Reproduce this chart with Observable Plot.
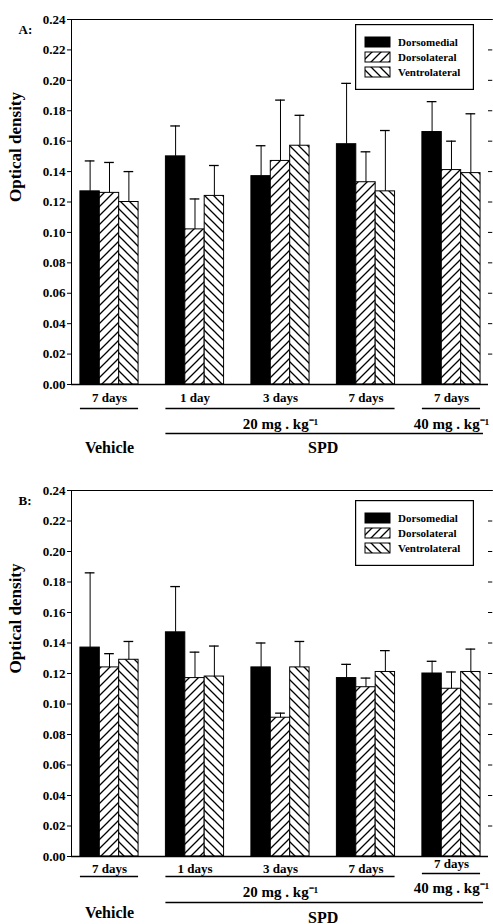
<!DOCTYPE html>
<html>
<head>
<meta charset="utf-8">
<script src="https://cdn.jsdelivr.net/npm/d3@7"></script>
<script src="https://cdn.jsdelivr.net/npm/@observablehq/plot@0.6"></script>
<style>
  html, body { margin: 0; padding: 0; background: #fff; overflow: hidden; }
  #chart { position: relative; width: 493px; }
  .panel { position: relative; width: 493px; height: 462px; }
  .panel > svg { display: block; }
  .legend { position: absolute; }
  .legend text { font-family: "Liberation Serif", "Times New Roman", serif; font-weight: bold; font-size: 11px; }
</style>
</head>
<body>
<svg width="0" height="0" style="position:absolute">
  <defs>
    <pattern id="hatchDL" patternUnits="userSpaceOnUse" width="9" height="9">
      <rect width="9" height="9" fill="white"/>
      <path d="M-1,1 L1,-1 M0,9 L9,0 M8,10 L10,8" stroke="black" stroke-width="1.3"/>
    </pattern>
    <pattern id="hatchVL" patternUnits="userSpaceOnUse" width="9" height="9">
      <rect width="9" height="9" fill="white"/>
      <path d="M-1,8 L1,10 M0,0 L9,9 M8,-1 L10,1" stroke="black" stroke-width="1.3"/>
    </pattern>
  </defs>
</svg>
<div id="chart"></div>
<script>
// ---------- data ----------
const groups = ["Vehicle 7 days", "SPD 20 mg/kg 1 day", "SPD 20 mg/kg 3 days", "SPD 20 mg/kg 7 days", "SPD 40 mg/kg 7 days"];
const regions = ["Dorsomedial", "Dorsolateral", "Ventrolateral"];
const yTicks = [0, 0.02, 0.04, 0.06, 0.08, 0.10, 0.12, 0.14, 0.16, 0.18, 0.20, 0.22, 0.24];

const dayLabelsA = ["7 days", "1 day", "3 days", "7 days", "7 days"];
const dayLabelsB = ["7 days", "1 days", "3 days", "7 days", "7 days"];
const doseLabels = ["20 mg . kg\u207B\u00B9", "40 mg . kg\u207B\u00B9"];
const treatmentLabels = ["Vehicle", "SPD"];

// Panel A
const aDorsomedial     = [0.127, 0.150, 0.137, 0.158, 0.166];
const aDorsomedialErr  = [0.020, 0.020, 0.020, 0.040, 0.020];
const aDorsolateral    = [0.126, 0.102, 0.147, 0.133, 0.141];
const aDorsolateralErr = [0.020, 0.020, 0.040, 0.020, 0.019];
const aVentrolateral   = [0.120, 0.124, 0.157, 0.127, 0.139];
const aVentrolateralErr= [0.020, 0.020, 0.020, 0.040, 0.039];

// Panel B
const bDorsomedial     = [0.137, 0.147, 0.124, 0.117, 0.120];
const bDorsomedialErr  = [0.049, 0.030, 0.016, 0.009, 0.008];
const bDorsolateral    = [0.124, 0.117, 0.091, 0.111, 0.110];
const bDorsolateralErr = [0.009, 0.017, 0.003, 0.006, 0.011];
const bVentrolateral   = [0.129, 0.118, 0.124, 0.121, 0.121];
const bVentrolateralErr= [0.012, 0.020, 0.017, 0.014, 0.015];

// ---------- layout (in bar-width units) ----------
const GROUP_STEP = 4.41;   // one group = 3 bars + gap
const PAD_LEFT = 0.46, PAD_RIGHT = 0.41;
const X_MIN = -PAD_LEFT;
const X_MAX = (groups.length - 1) * GROUP_STEP + regions.length + PAD_RIGHT;
const center = (g0, g1) => (g0 * GROUP_STEP + g1 * GROUP_STEP + regions.length) / 2;
const FONT = "'Liberation Serif', 'Times New Roman', serif";
const fills = ["black", "url(#hatchDL)", "url(#hatchVL)"];

function legendSvg(top) {
  const rowsY = [18, 33, 48];
  let s = `<svg class="legend" style="left:355px;top:${top}px" width="119" height="66">`;
  s += `<rect x="0.6" y="0.6" width="117.8" height="64.8" fill="white" stroke="black" stroke-width="1.2"/>`;
  regions.forEach((r, i) => {
    s += `<rect x="10" y="${rowsY[i] - 5}" width="25" height="10" fill="${fills[i]}" stroke="black" stroke-width="1"/>`;
    s += `<text x="43" y="${rowsY[i]}" dominant-baseline="central">${r}</text>`;
  });
  return s + `</svg>`;
}

function makePanel(p) {
  const values = [p.dm, p.dl, p.vl];
  const errors = [p.dmErr, p.dlErr, p.vlErr];
  const rows = regions.flatMap((region, r) => groups.map((group, i) => ({
    group, region,
    x1: i * GROUP_STEP + r, x2: i * GROUP_STEP + r + 1,
    value: values[r][i], top: values[r][i] + errors[r][i]
  })));

  const marks = [];
  regions.forEach((region, r) => {
    marks.push(Plot.rect(rows.filter(d => d.region === region), {
      x1: "x1", x2: "x2", y1: () => 0, y2: "value",
      fill: fills[r], stroke: "black", strokeWidth: 1
    }));
  });
  marks.push(Plot.ruleX(rows, {x: d => d.x1 + 0.5, y1: "value", y2: "top", stroke: "black", strokeWidth: 1}));
  marks.push(Plot.ruleY(rows, {y: "top", x1: d => d.x1 + 0.25, x2: d => d.x1 + 0.75, stroke: "black", strokeWidth: 1.3}));

  // frame lines
  marks.push(Plot.ruleY([0], {x1: X_MIN, x2: X_MAX, stroke: "black", strokeWidth: 1.3}));
  marks.push(Plot.ruleY([0.24], {x1: X_MIN, x2: X_MAX + 0.25, stroke: "black", strokeWidth: 1.1}));
  marks.push(Plot.ruleY(yTicks.slice(1, -1), {x1: X_MAX, x2: X_MAX + 0.22, stroke: "black", strokeWidth: 1}));

  // panel letter and y label
  marks.push(Plot.text([p.letter], {frameAnchor: "top-left", dx: -53, dy: 5, textAnchor: "start", fontSize: 13}));
  marks.push(Plot.text(["Optical density"], {frameAnchor: "left", rotate: -90, dx: -56, fontSize: 17}));

  // category annotations
  p.dayLabels.forEach((t, i) => {
    marks.push(Plot.text([t], {x: () => center(i, i), y: () => 0, dy: p.dy.day[i], fontSize: 13}));
  });
  const spans = [[0, 0], [1, 3], [4, 4]];
  spans.forEach(([g0, g1], k) => {
    marks.push(Plot.ruleY([0], {x1: g0 * GROUP_STEP, x2: g1 * GROUP_STEP + regions.length, dy: p.dy.underline[k], stroke: "black", strokeWidth: 1.3}));
  });
  const doseSpans = [[1, 3], [4, 4]];
  doseLabels.forEach((t, k) => {
    marks.push(Plot.text([t], {x: () => center(...doseSpans[k]), y: () => 0, dy: p.dy.dose[k], fontSize: 15}));
  });
  marks.push(Plot.ruleY([0], {x1: 1 * GROUP_STEP, x2: 4 * GROUP_STEP + regions.length + 0.15, dy: p.dy.line, stroke: "black", strokeWidth: 1.3}));
  const treatSpans = [[0, 0], [1, 4]];
  treatmentLabels.forEach((t, k) => {
    marks.push(Plot.text([t], {x: () => center(...treatSpans[k]), y: () => 0, dy: p.dy.treat[k], fontSize: 16}));
  });

  const svg = Plot.plot({
    width: 493,
    height: 462,
    marginLeft: 71,
    marginRight: 5,
    marginTop: p.marginTop,
    marginBottom: p.marginBottom,
    style: {fontFamily: FONT, fontWeight: "bold", fontSize: "13px", color: "black", background: "white", overflow: "visible"},
    x: {domain: [X_MIN, X_MAX], axis: null},
    y: {domain: [0, 0.24], ticks: yTicks, tickFormat: d3.format(".2f"), tickSize: 4, tickPadding: 2, line: true, label: null},
    marks
  });
  const div = document.createElement("div");
  div.className = "panel";
  div.appendChild(svg);
  div.insertAdjacentHTML("beforeend", legendSvg(p.legendTop));
  document.getElementById("chart").appendChild(div);
}

makePanel({
  letter: "A:",
  dm: aDorsomedial, dmErr: aDorsomedialErr,
  dl: aDorsolateral, dlErr: aDorsolateralErr,
  vl: aVentrolateral, vlErr: aVentrolateralErr,
  dayLabels: dayLabelsA,
  marginTop: 19, marginBottom: 78, legendTop: 24,
  dy: {day: [13, 13, 13, 13, 13], underline: [24, 24, 24], dose: [40, 40], line: 49, treat: [63, 63]}
});
makePanel({
  letter: "B:",
  dm: bDorsomedial, dmErr: bDorsomedialErr,
  dl: bDorsolateral, dlErr: bDorsolateralErr,
  vl: bVentrolateral, vlErr: bVentrolateralErr,
  dayLabels: dayLabelsB,
  marginTop: 28, marginBottom: 68, legendTop: 38,
  dy: {day: [12, 12, 12, 12, 7], underline: [20, 20, 17], dose: [36, 32], line: 46, treat: [56, 61]}
});
</script>
</body>
</html>
